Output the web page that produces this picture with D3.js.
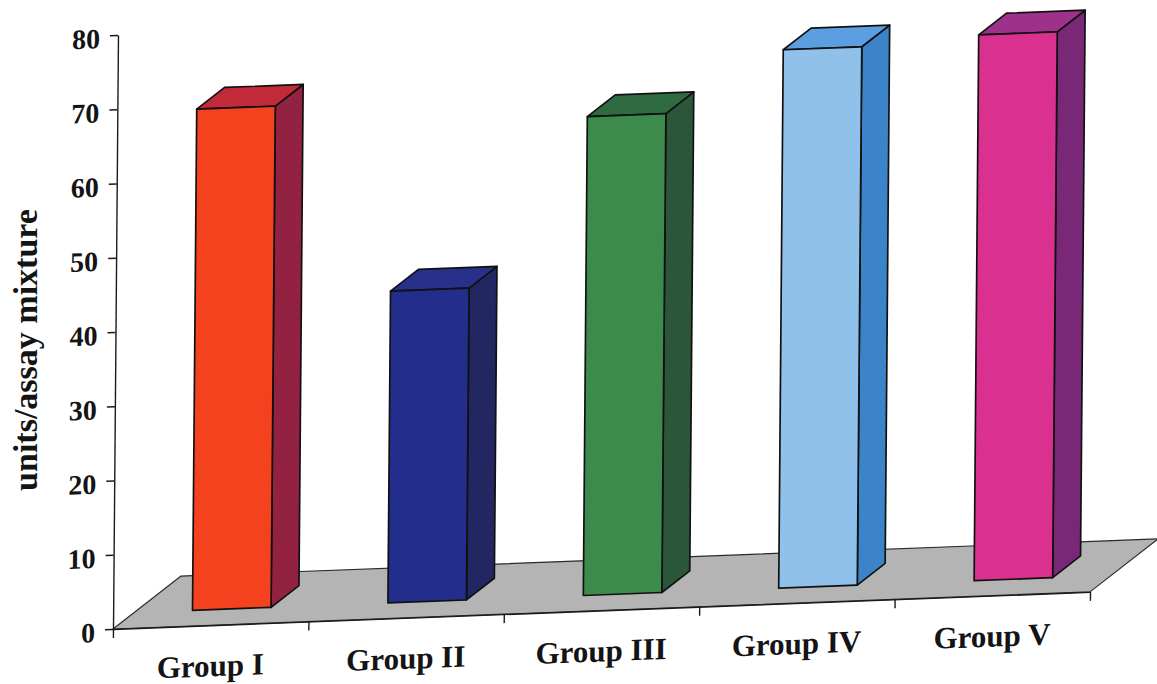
<!DOCTYPE html>
<html>
<head>
<meta charset="utf-8">
<script src="https://cdn.jsdelivr.net/npm/d3@7"></script>
<style>
  html, body { margin: 0; padding: 0; background: #ffffff; }
  svg { display: block; }
  text { font-family: "Liberation Serif", "Times New Roman", serif; font-weight: bold; fill: #141414; }
</style>
</head>
<body>
<svg id="chart" width="1157" height="684"></svg>
<script>
// Enzyme activity per group (units/assay mixture)
const categories = ["Group I", "Group II", "Group III", "Group IV", "Group V"];
const values = [67.5, 42, 64.5, 72.5, 73.5];
const yTicks = [0, 10, 20, 30, 40, 50, 60, 70, 80];
const yTitle = "units/assay mixture";

// Face shading for each column: front, top, right side
const frontColors = ["#f4421e", "#232d8c", "#3d8b4c", "#8fc1ea", "#da3190"];
const topColors   = ["#c22a3a", "#28318a", "#2f6b40", "#5c9fe0", "#9e3189"];
const sideColors  = ["#922142", "#222661", "#2b563a", "#3b84c8", "#792877"];

const svg = d3.select("#chart");

// Plot frame: axis length, value height, oblique depth of the floor
const axisLen = 977, plotH = 594;
const depth = { x: 67.6, y: -50.4 };
const barFront = 0.31, barDepth = 0.41;

// The whole plot sits in a slightly tilted frame
const plot = svg.append("g")
  .attr("transform", "matrix(1,-0.038,-0.0084,1,113,629)");

const x = d3.scaleBand().domain(categories).range([0, axisLen])
  .paddingInner(0.598).paddingOuter(0.299);
const slot = d3.scaleLinear().domain([0, categories.length]).range([0, axisLen]);
const y = d3.scaleLinear().domain([0, 80]).range([0, -plotH]);

// Floor
plot.append("path")
  .attr("d", d3.line()([[0, 0], [axisLen, 0], [axisLen + depth.x, depth.y], [depth.x, depth.y]]) + "Z")
  .attr("fill", "#b4b4b4")
  .attr("stroke", "#2a2a2a")
  .attr("stroke-width", 1.2)
  .attr("stroke-linejoin", "round");

// Columns
const bars = plot.append("g").selectAll("g")
  .data(categories.map((c, i) => ({ c, v: values[i], i })))
  .join("g");

bars.each(function(d) {
  const g = d3.select(this);
  const w = x.bandwidth();
  const x0 = x(d.c) + barFront * depth.x;
  const yb = barFront * depth.y;
  const yt = yb + y(d.v);
  const dx = barDepth * depth.x, dy = barDepth * depth.y;
  const line = d3.line();
  const common = sel => sel.attr("stroke", "#111").attr("stroke-width", 1.7).attr("stroke-linejoin", "round");

  common(g.append("path")
    .attr("d", line([[x0 + w, yb], [x0 + w + dx, yb + dy], [x0 + w + dx, yt + dy], [x0 + w, yt]]) + "Z")
    .attr("fill", sideColors[d.i]));
  common(g.append("path")
    .attr("d", line([[x0, yt], [x0 + dx, yt + dy], [x0 + w + dx, yt + dy], [x0 + w, yt]]) + "Z")
    .attr("fill", topColors[d.i]));
  common(g.append("rect")
    .attr("x", x0).attr("y", yt)
    .attr("width", w).attr("height", yb - yt)
    .attr("fill", frontColors[d.i]));
});

// Value axis
const yAxis = plot.append("g")
  .call(d3.axisLeft(y).tickValues(yTicks).tickSize(8).tickSizeOuter(0).tickPadding(10));
yAxis.selectAll("text").attr("font-size", 28).attr("dy", "0.43em");

// Category boundaries along the front edge
plot.append("g")
  .call(d3.axisBottom(slot).tickValues(d3.range(categories.length + 1))
    .tickSize(9).tickSizeOuter(0).tickFormat(""));

// Category labels
const xAxis = plot.append("g")
  .call(d3.axisBottom(x).tickSize(0).tickPadding(29));
xAxis.select(".domain").remove();
xAxis.selectAll("text").attr("font-size", 31);

plot.selectAll(".domain, .tick line").attr("stroke", "#1a1a1a").attr("stroke-width", 1.4);

// Axis title
svg.append("text")
  .attr("transform", "translate(37,350) rotate(-90)")
  .attr("text-anchor", "middle")
  .attr("font-size", 34)
  .text(yTitle);
</script>
</body>
</html>
